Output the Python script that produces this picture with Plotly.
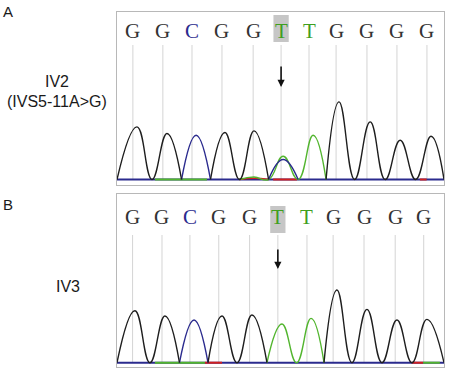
import plotly.graph_objects as go

W, H = 454, 373

# ---- data ----------------------------------------------------------
bases = ["G", "G", "C", "G", "G", "T", "T", "G", "G", "G", "G"]
x_range = [0.32, 11.44]          # scan index window shown

# Panel A : IV2 (IVS5-11A>G)
a_calls = [0.86, 1.88, 2.87, 3.89, 4.95, 5.90, 6.85, 7.77, 8.82, 9.84, 10.86]
a_peaks = [1.00, 2.02, 3.01, 3.99, 4.98, 5.97, 6.99, 7.87, 8.93, 9.95, 11.00]
a_G = [526, 460, 0, 470, 486, 0, 0, 776, 576, 393, 433]
a_C = [0, 0, 443, 0, 0, 200, 0, 0, 0, 0, 0]
a_T = [0, 0, 0, 0, 25, 232, 443, 0, 0, 0, 0]
a_A = [0, 0, 0, 0, 12, 0, 0, 0, 0, 0, 0]
a_noise = [("T", 1.61, 3.38), ("A", 5.63, 6.44), ("A", 10.62, 10.85)]

# Panel B : IV3
b_calls = [0.85, 1.85, 2.80, 3.78, 4.83, 5.79, 6.78, 7.67, 8.72, 9.78, 10.75]
b_peaks = [0.93, 1.95, 2.94, 3.89, 4.91, 5.93, 6.92, 7.80, 8.82, 9.84, 10.86]
b_G = [520, 467, 0, 467, 477, 0, 0, 727, 533, 427, 433]
b_C = [0, 0, 427, 0, 0, 0, 0, 0, 0, 0, 0]
b_T = [0, 0, 0, 0, 0, 387, 443, 0, 0, 0, 0]
b_A = [0] * 11
b_noise = [("T", 1.61, 3.31), ("A", 3.31, 3.89), ("A", 10.35, 10.73), ("T", 10.73, 11.30)]

# ---- styling -------------------------------------------------------
trace_col = {"G": "#1e1e1e", "C": "#2b2b8e", "T": "#52b52e", "A": "#d02020"}
letter_col = {"G": "#333333", "C": "#2b2b8e", "T": "#3f9f1f", "A": "#d02020"}


def px2paper_x(px):
    return px / W


def px2paper_y(py):
    return 1 - py / H


def channel_xy(peaks, heights, xmin, xmax):
    n = len(peaks)
    xs, ys = [], []
    i = 0
    while i < n:
        if heights[i] > 0:
            left = xmin if i == 0 else (peaks[i - 1] + peaks[i]) / 2
            if xs:
                xs.append(None); ys.append(None)
            xs.append(left); ys.append(0)
            while i < n and heights[i] > 0:
                xs.append(peaks[i]); ys.append(heights[i])
                right = xmax if i == n - 1 else (peaks[i] + peaks[i + 1]) / 2
                xs.append(right); ys.append(0)
                i += 1
        else:
            i += 1
    return xs, ys


fig = go.Figure()

panels = [
    dict(xa="x", ya="y", calls=a_calls, peaks=a_peaks,
         ch={"G": a_G, "C": a_C, "T": a_T, "A": a_A}, noise=a_noise,
         letter_y=1490, tick_top=1345, hl=(1375, 1645), arrow=(925, 1145)),
    dict(xa="x2", ya="y2", calls=b_calls, peaks=b_peaks,
         ch={"G": b_G, "C": b_C, "T": b_T, "A": b_A}, noise=b_noise,
         letter_y=1455, tick_top=1277, hl=(1297, 1567), arrow=(937, 1147)),
]

shapes = []
annotations = []
letter_family = "Liberation Serif, serif"

for p in panels:
    xa, ya = p["xa"], p["ya"]
    # baseline (blue channel at rest)
    fig.add_trace(go.Scatter(x=x_range, y=[0, 0], mode="lines", xaxis=xa, yaxis=ya,
                             line=dict(color=trace_col["C"], width=2), hoverinfo="skip"))
    for ch, x0, x1 in p["noise"]:
        fig.add_trace(go.Scatter(x=[x0, x1], y=[0, 0], mode="lines", xaxis=xa, yaxis=ya,
                                 line=dict(color=trace_col[ch], width=2), hoverinfo="skip"))
    for ch in ["A", "T", "C", "G"]:
        xs, ys = channel_xy(p["peaks"], p["ch"][ch], x_range[0], x_range[1])
        if not xs:
            continue
        fig.add_trace(go.Scatter(x=xs, y=ys, mode="lines", xaxis=xa, yaxis=ya,
                                 line=dict(color=trace_col[ch], width=1.4, shape="spline",
                                           smoothing=1.3),
                                 connectgaps=False, hoverinfo="skip"))
    # call tick lines
    for cx in p["calls"]:
        shapes.append(dict(type="line", xref=xa, yref=ya, x0=cx, x1=cx, y0=0, y1=p["tick_top"],
                           line=dict(color="#d4d4d4", width=1), layer="below"))
    # highlight of the mutated base
    mx = p["calls"][5]
    shapes.append(dict(type="rect", xref=xa, yref=ya, x0=mx - 0.26, x1=mx + 0.26,
                       y0=p["hl"][0], y1=p["hl"][1], fillcolor="#c6c6c6",
                       line=dict(width=0), layer="below"))
    for cx, b in zip(p["calls"], bases):
        annotations.append(dict(x=cx, y=p["letter_y"], xref=xa, yref=ya, text=b,
                                showarrow=False,
                                font=dict(family=letter_family, size=21, color=letter_col[b])))
    annotations.append(dict(x=mx, y=p["arrow"][0], ax=mx, ay=p["arrow"][1],
                            xref=xa, yref=ya, axref=xa, ayref=ya, text="",
                            showarrow=True, arrowhead=2, arrowsize=0.9, arrowwidth=1.6,
                            arrowcolor="#111111"))

for txt, px, py, sz in [("A", 8, 11, 15), ("B", 8, 204, 15),
                        ("IV2", 57, 81, 16), ("(IVS5-11A&gt;G)", 57, 102, 16),
                        ("IV3", 68, 286, 16)]:
    annotations.append(dict(x=px2paper_x(px), y=px2paper_y(py), xref="paper", yref="paper",
                            xanchor="center", yanchor="middle",
                            text=txt, showarrow=False,
                            font=dict(family="Liberation Sans", size=sz, color="#1a1a1a")))

axis_common = dict(showline=True, mirror=True, linecolor="#b8b8b8", linewidth=1,
                   showgrid=False, zeroline=False, showticklabels=False, ticks="")

fig.update_layout(
    width=W, height=H, margin=dict(l=0, r=0, t=0, b=0),
    paper_bgcolor="white", plot_bgcolor="white", showlegend=False,
    xaxis=dict(domain=[px2paper_x(117), px2paper_x(444)], range=x_range, anchor="y", **axis_common),
    yaxis=dict(domain=[px2paper_y(184.5), px2paper_y(12)], range=[-50, 1675], anchor="x", **axis_common),
    xaxis2=dict(domain=[px2paper_x(117), px2paper_x(444)], range=x_range, anchor="y2", **axis_common),
    yaxis2=dict(domain=[px2paper_y(367), px2paper_y(194)], range=[-43, 1687], anchor="x2", **axis_common),
    shapes=shapes, annotations=annotations,
)

fig.write_html("out.html", config={"displayModeBar": False, "staticPlot": True},
               post_script="document.body.style.margin='0px';")
